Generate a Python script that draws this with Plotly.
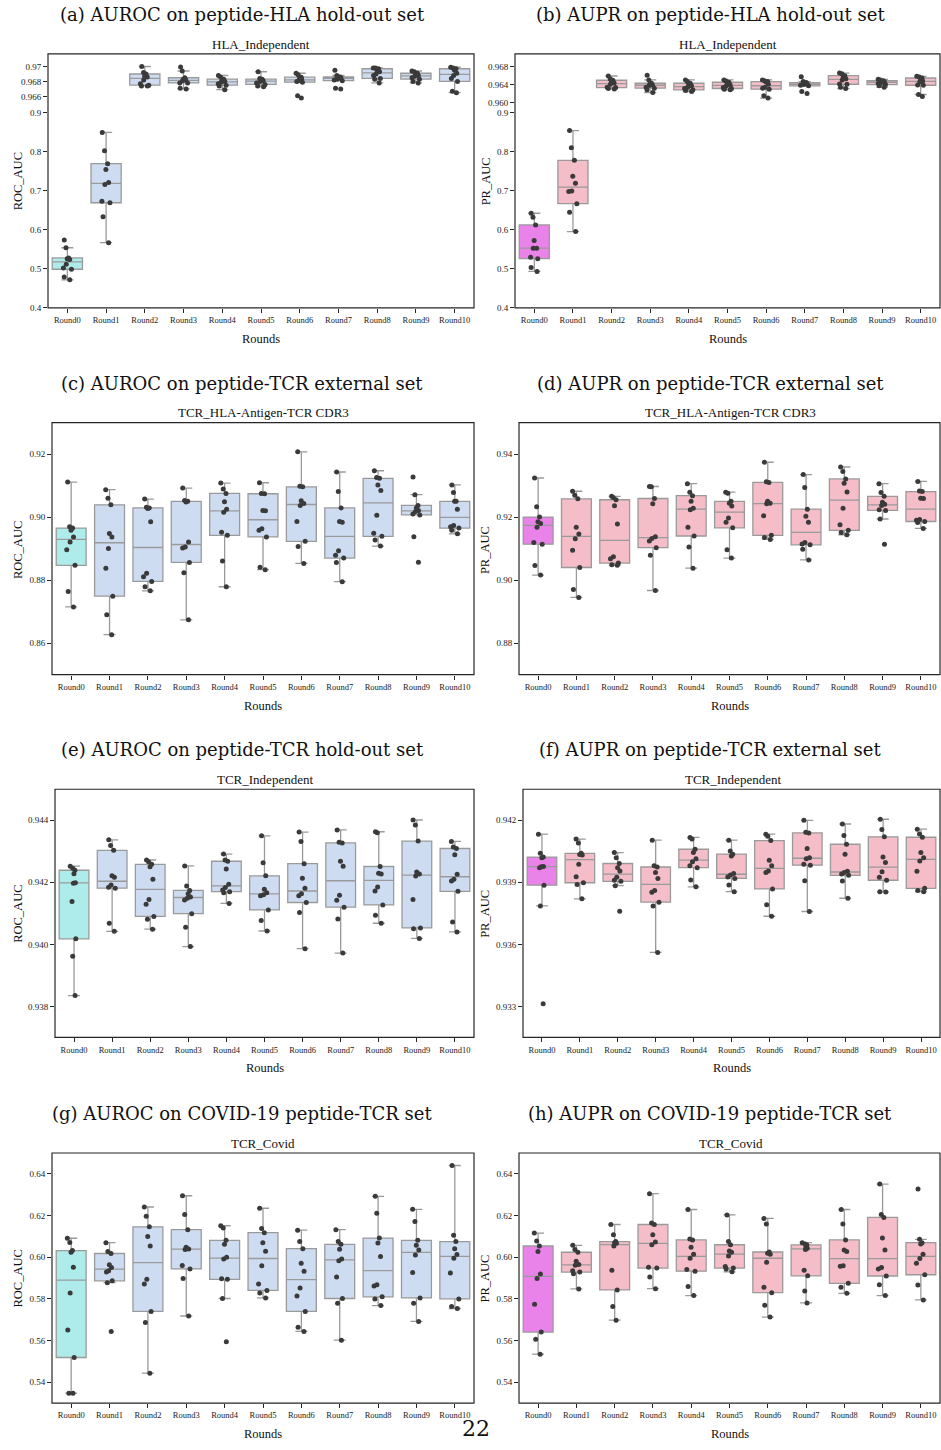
import plotly.graph_objects as go

W, H = 941, 1450

ROUNDS = ["Round0", "Round1", "Round2", "Round3", "Round4", "Round5",
          "Round6", "Round7", "Round8", "Round9", "Round10"]

# (a) AUROC, HLA_Independent
A_ROC = [
    [0.574, 0.554, 0.528, 0.526, 0.524, 0.512, 0.502, 0.499, 0.479, 0.472],
    [0.849, 0.802, 0.769, 0.754, 0.721, 0.716, 0.673, 0.669, 0.633, 0.567],
    [0.9700, 0.9692, 0.9690, 0.9687, 0.9686, 0.9682, 0.9677, 0.9675, 0.9674, 0.9674],
    [0.96995, 0.9694, 0.9685, 0.9683, 0.9682, 0.9681, 0.9678, 0.9678, 0.9671, 0.9670],
    [0.9688, 0.9686, 0.9683, 0.9682, 0.9680, 0.9679, 0.9677, 0.9675, 0.9674, 0.9669],
    [0.9693, 0.9684, 0.9683, 0.9682, 0.9681, 0.9680, 0.9678, 0.9676, 0.9674, 0.9673],
    [0.9691, 0.9689, 0.96858, 0.9684, 0.9683, 0.9681, 0.9680, 0.9679, 0.9661, 0.9658],
    [0.9695, 0.9688, 0.9686, 0.9686, 0.9685, 0.9683, 0.9682, 0.9681, 0.9671, 0.9670],
    [0.9698, 0.9698, 0.9697, 0.9695, 0.9693, 0.9690, 0.9688, 0.9684, 0.9683, 0.9678],
    [0.9694, 0.9693, 0.9691, 0.9689, 0.9688, 0.9687, 0.9685, 0.9683, 0.9680, 0.9678],
    [0.9699, 0.9698, 0.9697, 0.9695, 0.9691, 0.9688, 0.9684, 0.9680, 0.9667, 0.9665],
]

# (b) AUPR, HLA_Independent
B_PR = [
    [0.6424, 0.632, 0.6126, 0.5726, 0.553, 0.553, 0.530, 0.526, 0.5037, 0.4935],
    [0.854, 0.810, 0.778, 0.737, 0.719, 0.6993, 0.698, 0.667, 0.645, 0.5956],
    [0.96594, 0.96528, 0.96499, 0.96484, 0.9644, 0.9641, 0.96344, 0.96337, 0.96315, 0.96307],
    [0.9661, 0.96506, 0.96432, 0.96418, 0.96396, 0.9638, 0.96344, 0.96322, 0.96285, 0.96226],
    [0.96506, 0.96469, 0.96432, 0.9641, 0.96374, 0.96344, 0.96315, 0.96285, 0.9627, 0.96249],
    [0.96506, 0.96484, 0.96455, 0.96432, 0.96396, 0.96374, 0.96337, 0.96315, 0.963, 0.96285],
    [0.96506, 0.96491, 0.9647, 0.96462, 0.9641, 0.96344, 0.96322, 0.963, 0.96153, 0.96101],
    [0.9658, 0.96469, 0.96447, 0.96432, 0.96418, 0.96403, 0.96388, 0.96374, 0.9625, 0.96204],
    [0.9666, 0.96646, 0.96601, 0.96565, 0.96535, 0.96505, 0.96418, 0.9641, 0.96344, 0.96315],
    [0.96521, 0.96506, 0.96491, 0.96476, 0.96462, 0.96447, 0.96425, 0.96403, 0.96374, 0.96344],
    [0.96587, 0.96572, 0.9655, 0.96506, 0.96484, 0.96462, 0.96396, 0.96388, 0.96182, 0.96138],
]

# (c) AUROC, TCR_HLA-Antigen-TCR CDR3
C_ROC = [
    [0.9111, 0.8969, 0.8965, 0.8958, 0.8937, 0.8921, 0.8896, 0.8847, 0.8764, 0.8715],
    [0.9087, 0.9060, 0.9039, 0.8948, 0.8937, 0.8900, 0.8838, 0.8749, 0.8690, 0.8627],
    [0.9057, 0.9031, 0.9029, 0.9027, 0.8985, 0.8822, 0.8811, 0.8796, 0.8779, 0.8766],
    [0.9092, 0.9053, 0.9050, 0.9048, 0.8921, 0.8905, 0.8902, 0.8856, 0.8823, 0.8674],
    [0.9108, 0.9089, 0.9075, 0.9049, 0.9025, 0.9015, 0.8952, 0.8942, 0.8861, 0.8779],
    [0.9109, 0.9075, 0.9074, 0.9021, 0.9020, 0.8963, 0.8958, 0.8937, 0.8841, 0.8833],
    [0.9207, 0.9098, 0.9096, 0.9052, 0.9043, 0.9037, 0.8986, 0.8923, 0.8907, 0.8853],
    [0.9143, 0.9081, 0.9029, 0.8986, 0.8984, 0.8893, 0.8879, 0.8870, 0.8856, 0.8795],
    [0.9147, 0.9126, 0.9123, 0.9102, 0.9084, 0.9006, 0.8949, 0.8939, 0.8927, 0.8908],
    [0.9127, 0.9071, 0.9037, 0.9029, 0.9021, 0.9018, 0.9010, 0.9007, 0.8938, 0.8857],
    [0.9102, 0.9078, 0.9050, 0.9050, 0.9025, 0.8973, 0.8969, 0.8965, 0.8958, 0.8947],
]

# (d) AUPR, TCR_HLA-Antigen-TCR CDR3
D_PR = [
    [0.9324, 0.9233, 0.9200, 0.9185, 0.9180, 0.9168, 0.9119, 0.9114, 0.9046, 0.9016],
    [0.9282, 0.9269, 0.9258, 0.9168, 0.9146, 0.9131, 0.9095, 0.9040, 0.8970, 0.8945],
    [0.9266, 0.9262, 0.9255, 0.9236, 0.9178, 0.9074, 0.9068, 0.9054, 0.9049, 0.9047],
    [0.9297, 0.9296, 0.9259, 0.9242, 0.9138, 0.9132, 0.9124, 0.9103, 0.9079, 0.8967],
    [0.9306, 0.9279, 0.9268, 0.9250, 0.9228, 0.9223, 0.9168, 0.9140, 0.9105, 0.9038],
    [0.9279, 0.9276, 0.9250, 0.9244, 0.9235, 0.9197, 0.9184, 0.9166, 0.9096, 0.9070],
    [0.9374, 0.9312, 0.9310, 0.9250, 0.9244, 0.9242, 0.9204, 0.9142, 0.9135, 0.9129],
    [0.9335, 0.9294, 0.9225, 0.9203, 0.9184, 0.9119, 0.9115, 0.9112, 0.9098, 0.9064],
    [0.9359, 0.9345, 0.9321, 0.9307, 0.9280, 0.9228, 0.9176, 0.9158, 0.9151, 0.9144],
    [0.9306, 0.9278, 0.9266, 0.9247, 0.9241, 0.9237, 0.9223, 0.9221, 0.9194, 0.9114],
    [0.9313, 0.9283, 0.9281, 0.9260, 0.9259, 0.9192, 0.9190, 0.9186, 0.9183, 0.9164],
]

# (e) AUROC, TCR_Independent
E_ROC = [
    [0.94252, 0.94245, 0.94239, 0.94228, 0.94199, 0.94197, 0.94138, 0.94018, 0.93962, 0.93835],
    [0.94337, 0.94319, 0.94303, 0.94221, 0.94216, 0.94191, 0.94184, 0.94181, 0.94068, 0.94042],
    [0.94272, 0.94266, 0.94258, 0.94250, 0.94210, 0.94145, 0.94129, 0.94090, 0.94081, 0.94049],
    [0.94253, 0.94188, 0.94174, 0.94163, 0.94153, 0.94149, 0.94143, 0.94099, 0.94055, 0.93993],
    [0.94291, 0.94272, 0.94268, 0.94243, 0.94194, 0.94183, 0.94175, 0.94170, 0.94166, 0.94132],
    [0.94350, 0.94263, 0.94221, 0.94178, 0.94166, 0.94160, 0.94157, 0.94111, 0.94077, 0.94043],
    [0.94362, 0.94332, 0.94260, 0.94213, 0.94181, 0.94163, 0.94157, 0.94135, 0.94103, 0.93986],
    [0.94369, 0.94329, 0.94327, 0.94268, 0.94252, 0.94158, 0.94142, 0.94120, 0.94082, 0.93972],
    [0.94363, 0.94360, 0.94251, 0.94229, 0.94227, 0.94185, 0.94172, 0.94127, 0.94094, 0.94068],
    [0.94401, 0.94385, 0.94333, 0.94233, 0.94227, 0.94220, 0.94145, 0.94053, 0.94050, 0.94019],
    [0.94332, 0.94314, 0.94309, 0.94289, 0.94226, 0.94210, 0.94204, 0.94171, 0.94072, 0.94040],
]

# (f) AUPR, TCR_Independent
F_PR = [
    [0.94133, 0.94040, 0.94022, 0.94019, 0.93977, 0.93975, 0.93970, 0.93886, 0.93786, 0.93313],
    [0.94109, 0.94090, 0.94040, 0.94035, 0.94032, 0.93987, 0.93927, 0.93898, 0.93890, 0.93820],
    [0.94044, 0.94019, 0.93991, 0.93971, 0.93955, 0.93924, 0.93910, 0.93905, 0.93884, 0.93760],
    [0.94104, 0.93980, 0.93974, 0.93948, 0.93919, 0.93861, 0.93852, 0.93804, 0.93786, 0.93561],
    [0.94117, 0.94110, 0.94060, 0.94044, 0.94014, 0.94000, 0.93980, 0.93971, 0.93911, 0.93878],
    [0.94104, 0.94052, 0.94036, 0.94027, 0.93943, 0.93935, 0.93926, 0.93919, 0.93887, 0.93855],
    [0.94133, 0.94123, 0.94102, 0.94007, 0.93980, 0.93955, 0.93947, 0.93868, 0.93791, 0.93736],
    [0.94200, 0.94142, 0.94139, 0.94064, 0.94019, 0.94014, 0.93988, 0.93983, 0.93908, 0.93759],
    [0.94182, 0.94126, 0.94084, 0.94036, 0.93953, 0.93947, 0.93940, 0.93934, 0.93906, 0.93823],
    [0.94205, 0.94155, 0.94120, 0.94022, 0.93996, 0.93951, 0.93924, 0.93910, 0.93855, 0.93853],
    [0.94157, 0.94134, 0.94118, 0.94044, 0.94019, 0.94003, 0.93953, 0.93871, 0.93861, 0.93855],
]

# (g) AUROC, TCR_Covid
G_ROC = [
    [0.6091, 0.6071, 0.6032, 0.6024, 0.5952, 0.5829, 0.5651, 0.5519, 0.5348, 0.5348],
    [0.6070, 0.6027, 0.6018, 0.5964, 0.5951, 0.5935, 0.5929, 0.5887, 0.5878, 0.5644],
    [0.6241, 0.6197, 0.6146, 0.6100, 0.6054, 0.5894, 0.5871, 0.5740, 0.5687, 0.5444],
    [0.6295, 0.6205, 0.6132, 0.6048, 0.6040, 0.6037, 0.5960, 0.5944, 0.5898, 0.5718],
    [0.6151, 0.6140, 0.6081, 0.6062, 0.6000, 0.5991, 0.5897, 0.5894, 0.5802, 0.5595],
    [0.6235, 0.6138, 0.6118, 0.6070, 0.6029, 0.5959, 0.5871, 0.5841, 0.5829, 0.5805],
    [0.6130, 0.6076, 0.6041, 0.5971, 0.5933, 0.5852, 0.5814, 0.5740, 0.5664, 0.5644],
    [0.6132, 0.6076, 0.6062, 0.6038, 0.5992, 0.5983, 0.5905, 0.5802, 0.5779, 0.5602],
    [0.6292, 0.6211, 0.6092, 0.6068, 0.6003, 0.5868, 0.5862, 0.5810, 0.5800, 0.5768],
    [0.6230, 0.6171, 0.6081, 0.6057, 0.6035, 0.6011, 0.5927, 0.5805, 0.5779, 0.5692],
    [0.6440, 0.6106, 0.6075, 0.6041, 0.6013, 0.5995, 0.5924, 0.5800, 0.5764, 0.5754],
]

# (h) AUPR, TCR_Covid
H_PR = [
    [0.6116, 0.6078, 0.6054, 0.6027, 0.5919, 0.5898, 0.5775, 0.5641, 0.5606, 0.5535],
    [0.6057, 0.6037, 0.6024, 0.5981, 0.5965, 0.5962, 0.5935, 0.5929, 0.5921, 0.5848],
    [0.6157, 0.6108, 0.6075, 0.6070, 0.6067, 0.6054, 0.5937, 0.5843, 0.5764, 0.5698],
    [0.6305, 0.6164, 0.6157, 0.6108, 0.6073, 0.6060, 0.5952, 0.5948, 0.5905, 0.5849],
    [0.6229, 0.6087, 0.6083, 0.6048, 0.6014, 0.5995, 0.5941, 0.5933, 0.5859, 0.5816],
    [0.6203, 0.6076, 0.6060, 0.6030, 0.6024, 0.6006, 0.5956, 0.5948, 0.5943, 0.5930],
    [0.6186, 0.6159, 0.6025, 0.6019, 0.6014, 0.5976, 0.5856, 0.5830, 0.5770, 0.5713],
    [0.6070, 0.6064, 0.6059, 0.6049, 0.6043, 0.6037, 0.5938, 0.5911, 0.5838, 0.5781],
    [0.6229, 0.6159, 0.6083, 0.6035, 0.6027, 0.5959, 0.5957, 0.5875, 0.5856, 0.5827],
    [0.6351, 0.6205, 0.6191, 0.6092, 0.6035, 0.5951, 0.5944, 0.5910, 0.5868, 0.5816],
    [0.6327, 0.6086, 0.6070, 0.6064, 0.6014, 0.5994, 0.5971, 0.5916, 0.5867, 0.5795],
]

CAPTIONS = [
    "(a) AUROC on peptide-HLA hold-out set",
    "(b) AUPR on peptide-HLA hold-out set",
    "(c) AUROC on peptide-TCR external set",
    "(d) AUPR on peptide-TCR external set",
    "(e) AUROC on peptide-TCR hold-out set",
    "(f) AUPR on peptide-TCR external set",
    "(g) AUROC on COVID-19 peptide-TCR set",
    "(h) AUPR on COVID-19 peptide-TCR set",
]
TITLES = ["HLA_Independent", "HLA_Independent",
          "TCR_HLA-Antigen-TCR CDR3", "TCR_HLA-Antigen-TCR CDR3",
          "TCR_Independent", "TCR_Independent", "TCR_Covid", "TCR_Covid"]

# ---------------- styles / layout ----------------
SERIF = "Liberation Serif"
CAP_FONT = "DejaVu Serif"
ROC_FILL, ROC_FILL0 = "#cedcf2", "#aeeceb"
PR_FILL, PR_FILL0 = "#f4bdc7", "#e982e9"
EDGE = "#9a9a9a"
DOT = "#3a3a3a"
FRAME = "#262626"

PANELS = [
    dict(data=A_ROC, kind="roc", box=(48, 474, 54, 309), cap=(242, 15), tit=(261, 45),
         xl=(261, 340), yl=(18, 182), yr=(0.4, 0.92),
         tv=[0.4, 0.5, 0.6, 0.7, 0.8, 0.9], tt=["0.4", "0.5", "0.6", "0.7", "0.8", "0.9"],
         split=105, ur=(0.9649, 0.9717), utv=[0.966, 0.968, 0.97], utt=["0.966", "0.968", "0.97"]),
    dict(data=B_PR, kind="pr", box=(515, 940, 54, 309), cap=(710, 15), tit=(728, 45),
         xl=(728, 340), yl=(486, 182), yr=(0.4, 0.9128),
         tv=[0.4, 0.5, 0.6, 0.7, 0.8, 0.9], tt=["0.4", "0.5", "0.6", "0.7", "0.8", "0.9"],
         split=108, ur=(0.95889, 0.97089), utv=[0.960, 0.964, 0.968], utt=["0.960", "0.964", "0.968"]),
    dict(data=C_ROC, kind="roc", box=(52, 474, 424, 677), cap=(242, 385), tit=(263, 414),
         xl=(263, 708), yl=(18, 552), yr=(0.85, 0.93),
         tv=[0.86, 0.88, 0.90, 0.92], tt=["0.86", "0.88", "0.90", "0.92"]),
    dict(data=D_PR, kind="pr", box=(519, 940, 424, 677), cap=(710, 385), tit=(730, 414),
         xl=(730, 708), yl=(485, 552), yr=(0.87, 0.95),
         tv=[0.88, 0.90, 0.92, 0.94], tt=["0.88", "0.90", "0.92", "0.94"]),
    dict(data=E_ROC, kind="roc", box=(55, 474, 792, 1041), cap=(242, 752), tit=(265, 782),
         xl=(265, 1072), yl=(18, 917), yr=(0.937, 0.945),
         tv=[0.938, 0.940, 0.942, 0.944], tt=["0.938", "0.940", "0.942", "0.944"]),
    dict(data=F_PR, kind="pr", box=(523, 940, 792, 1041), cap=(710, 752), tit=(733, 782),
         xl=(732, 1072), yl=(485, 917), yr=(0.9315, 0.9435),
         tv=[0.933, 0.936, 0.939, 0.942], tt=["0.933", "0.936", "0.939", "0.942"]),
    dict(data=G_ROC, kind="roc", box=(52, 474, 1157, 1408), cap=(242, 1117), tit=(263, 1147),
         xl=(263, 1439), yl=(18, 1283), yr=(0.53, 0.65),
         tv=[0.54, 0.56, 0.58, 0.60, 0.62, 0.64], tt=["0.54", "0.56", "0.58", "0.60", "0.62", "0.64"]),
    dict(data=H_PR, kind="pr", box=(519, 940, 1157, 1408), cap=(710, 1117), tit=(731, 1147),
         xl=(730, 1439), yl=(485, 1283), yr=(0.53, 0.65),
         tv=[0.54, 0.56, 0.58, 0.60, 0.62, 0.64], tt=["0.54", "0.56", "0.58", "0.60", "0.62", "0.64"]),
]


def fx(x):
    return x / W


def fy(y):
    return 1 - y / H


fig = go.Figure()
layout = {}
shapes = []
annotations = []

axis_tick_font = dict(family=SERIF, size=9, color="#222222")
yi = 0
for pi, p in enumerate(PANELS):
    xi = pi + 1
    x0, x1, y0, y1 = p["box"]
    xname = "xaxis" if xi == 1 else f"xaxis{xi}"
    yi += 1
    ylow = yi
    ylow_name = "yaxis" if ylow == 1 else f"yaxis{ylow}"
    split = p.get("split")
    layout[xname] = dict(
        domain=[fx(x0), fx(x1)], anchor=f"y{'' if ylow == 1 else ylow}",
        type="category", categoryorder="array", categoryarray=ROUNDS,
        range=[-0.5, 10.5], showgrid=False, zeroline=False, showline=False,
        ticks="outside", ticklen=4, tickwidth=1, tickcolor=FRAME,
        tickfont=dict(family=SERIF, size=8.5, color="#222222"),
    )
    layout[ylow_name] = dict(
        domain=[fy(y1), fy(split if split else y0)], anchor=f"x{'' if xi == 1 else xi}",
        range=list(p["yr"]), tickvals=p["tv"], ticktext=p["tt"],
        showgrid=False, zeroline=False, showline=False,
        ticks="outside", ticklen=4, tickwidth=1, tickcolor=FRAME,
        tickfont=axis_tick_font,
    )
    yup = None
    if split:
        yi += 1
        yup = yi
        layout[f"yaxis{yup}"] = dict(
            domain=[fy(split), fy(y0)], anchor=f"x{'' if xi == 1 else xi}",
            range=list(p["ur"]), tickvals=p["utv"], ticktext=p["utt"],
            showgrid=False, zeroline=False, showline=False,
            ticks="outside", ticklen=4, tickwidth=1, tickcolor=FRAME,
            tickfont=axis_tick_font,
        )
    fill = ROC_FILL if p["kind"] == "roc" else PR_FILL
    fill0 = ROC_FILL0 if p["kind"] == "roc" else PR_FILL0
    for i, vals in enumerate(p["data"]):
        ya = ylow
        if split and i >= 2:
            ya = yup
        fig.add_trace(go.Box(
            y=vals, x=[ROUNDS[i]] * len(vals),
            xaxis=f"x{'' if xi == 1 else xi}", yaxis=f"y{'' if ya == 1 else ya}",
            fillcolor=fill0 if i == 0 else fill,
            line=dict(color=EDGE, width=1.3),
            boxpoints="all", jitter=0.35, pointpos=0,
            marker=dict(color=DOT, size=5, line=dict(width=0)),
            whiskerwidth=0.4, width=0.78, quartilemethod="exclusive",
            showlegend=False, hoverinfo="y",
        ))
    shapes.append(dict(type="rect", xref="paper", yref="paper",
                       x0=fx(x0), x1=fx(x1), y0=fy(y1), y1=fy(y0),
                       line=dict(color=FRAME, width=1.2), fillcolor="rgba(0,0,0,0)",
                       layer="above"))
    annotations.append(dict(text=CAPTIONS[pi], x=fx(p["cap"][0]), y=fy(p["cap"][1]),
                            xref="paper", yref="paper", showarrow=False,
                            xanchor="center", yanchor="middle",
                            font=dict(family=CAP_FONT, size=18, color="#111111")))
    annotations.append(dict(text=TITLES[pi], x=fx(p["tit"][0]), y=fy(p["tit"][1]),
                            xref="paper", yref="paper", showarrow=False,
                            xanchor="center", yanchor="middle",
                            font=dict(family=SERIF, size=13, color="#111111")))
    annotations.append(dict(text="Rounds", x=fx(p["xl"][0]), y=fy(p["xl"][1]),
                            xref="paper", yref="paper", showarrow=False,
                            xanchor="center", yanchor="middle",
                            font=dict(family=SERIF, size=12.5, color="#111111")))
    annotations.append(dict(text="ROC_AUC" if p["kind"] == "roc" else "PR_AUC",
                            x=fx(p["yl"][0]), y=fy(p["yl"][1]), textangle=-90,
                            xref="paper", yref="paper", showarrow=False,
                            xanchor="center", yanchor="middle",
                            font=dict(family=SERIF, size=12.5, color="#111111")))

annotations.append(dict(text="22", x=fx(476), y=fy(1433), xref="paper", yref="paper",
                        showarrow=False, xanchor="center", yanchor="middle",
                        font=dict(family=CAP_FONT, size=22, color="#111111")))

fig.update_layout(
    width=W, height=H, autosize=False,
    margin=dict(l=0, r=0, t=0, b=0, pad=0),
    paper_bgcolor="white", plot_bgcolor="white",
    boxmode="overlay", showlegend=False,
    shapes=shapes, annotations=annotations,
    **layout,
)

fig.write_html("out.html",
               config={"displayModeBar": False, "staticPlot": True},
               post_script="document.body.style.margin='0px';"
                           "document.body.style.overflow='hidden';")
